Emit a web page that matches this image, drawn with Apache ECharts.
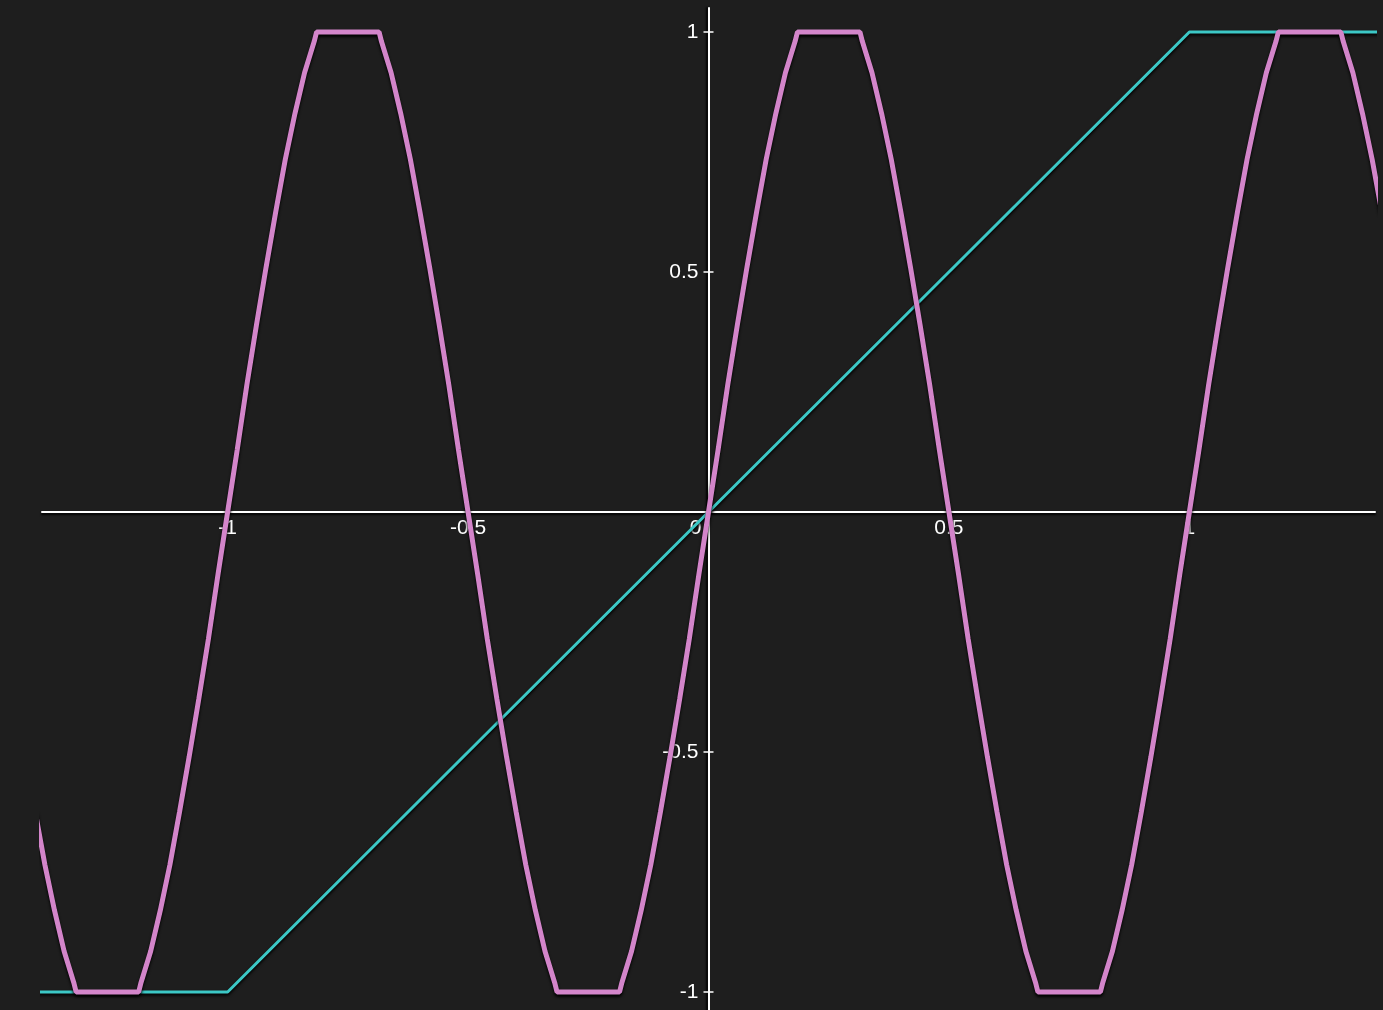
<!DOCTYPE html>
<html><head><meta charset="utf-8">
<script src="https://cdn.jsdelivr.net/npm/echarts@6/dist/echarts.min.js"></script>
<style>html,body{margin:0;padding:0;background:#1e1e1e;} #c{width:1383px;height:1010px;}</style>
</head><body><div id="c"></div>
<script>
const xTicks = [-1, -0.5, 0, 0.5, 1];
const yTicks = [-1, -0.5, 0.5, 1];
const tealX = [-1.4, -1, 1, 1.4];
const tealY = [-1, -1, 1, 1];
const pinkX = [
  -1.40, -1.38, -1.36, -1.34, -1.32, -1.315, -1.185, -1.18, -1.16, -1.14, -1.12, -1.10, -1.08, -1.06, -1.04, -1.02, -1.00,
  -0.98, -0.96, -0.94, -0.92, -0.90, -0.88, -0.86, -0.84, -0.82, -0.815, -0.685, -0.68, -0.66, -0.64, -0.62, -0.60, -0.58, -0.56, -0.54, -0.52, -0.50,
  -0.48, -0.46, -0.44, -0.42, -0.40, -0.38, -0.36, -0.34, -0.32, -0.315, -0.185, -0.18, -0.16, -0.14, -0.12, -0.10, -0.08, -0.06, -0.04, -0.02, 0,
  0.02, 0.04, 0.06, 0.08, 0.10, 0.12, 0.14, 0.16, 0.18, 0.185, 0.315, 0.32, 0.34, 0.36, 0.38, 0.40, 0.42, 0.44, 0.46, 0.48, 0.50,
  0.52, 0.54, 0.56, 0.58, 0.60, 0.62, 0.64, 0.66, 0.68, 0.685, 0.815, 0.82, 0.84, 0.86, 0.88, 0.90, 0.92, 0.94, 0.96, 0.98, 1.00,
  1.02, 1.04, 1.06, 1.08, 1.10, 1.12, 1.14, 1.16, 1.18, 1.185, 1.315, 1.32, 1.34, 1.36, 1.38, 1.40
];
const pinkY = [
  -0.625, -0.735, -0.83, -0.915, -0.98, -1, -1, -0.98, -0.915, -0.83, -0.735, -0.625, -0.51, -0.39, -0.265, -0.13, 0,
  0.13, 0.265, 0.39, 0.51, 0.625, 0.735, 0.83, 0.915, 0.98, 1, 1, 0.98, 0.915, 0.83, 0.735, 0.625, 0.51, 0.39, 0.265, 0.13, 0,
  -0.13, -0.265, -0.39, -0.51, -0.625, -0.735, -0.83, -0.915, -0.98, -1, -1, -0.98, -0.915, -0.83, -0.735, -0.625, -0.51, -0.39, -0.265, -0.13, 0,
  0.13, 0.265, 0.39, 0.51, 0.625, 0.735, 0.83, 0.915, 0.98, 1, 1, 0.98, 0.915, 0.83, 0.735, 0.625, 0.51, 0.39, 0.265, 0.13, 0,
  -0.13, -0.265, -0.39, -0.51, -0.625, -0.735, -0.83, -0.915, -0.98, -1, -1, -0.98, -0.915, -0.83, -0.735, -0.625, -0.51, -0.39, -0.265, -0.13, 0,
  0.13, 0.265, 0.39, 0.51, 0.625, 0.735, 0.83, 0.915, 0.98, 1, 1, 0.98, 0.915, 0.83, 0.735, 0.625
];

const FONT = "'Liberation Sans', Arial, sans-serif";
const GRID = {left: 42, top: 8, width: 1333, height: 1003.2};
const X_MIN = -1.386, X_MAX = 1.386, Y_MIN = -1.04, Y_MAX = 1.05;
// offsets that move the axes from the grid edges onto the origin
const xOffset = -(GRID.height * (0 - Y_MIN) / (Y_MAX - Y_MIN));
const yLeftOffset = -(GRID.width * (0 - X_MIN) / (X_MAX - X_MIN));
const yRightOffset = -(GRID.width * (X_MAX - 0) / (X_MAX - X_MIN));

const chart = echarts.init(document.getElementById('c'), null, {renderer: 'canvas'});
const yCommon = {type: 'value', min: Y_MIN, max: Y_MAX, splitLine: {show: false}};
chart.setOption({
  backgroundColor: '#1e1e1e',
  animation: false,
  grid: Object.assign({containLabel: false, outerBoundsMode: 'none'}, GRID),
  xAxis: {
    type: 'value', min: X_MIN, max: X_MAX, position: 'bottom', offset: xOffset,
    splitLine: {show: false},
    axisLine: {onZero: false, lineStyle: {color: '#ffffff', width: 2, shadowColor: '#000', shadowOffsetY: 2, shadowBlur: 2}},
    axisTick: {show: true, length: 5, customValues: xTicks, lineStyle: {color: '#ffffff', width: 1.5}},
    axisLabel: {
      show: true, customValues: xTicks, color: '#ffffff', fontSize: 21, fontFamily: FONT, margin: 6,
      hideOverlap: false,
      formatter: function (v) { return v === 0 ? '{z|0}' : String(v); },
      rich: {z: {color: '#ffffff', fontSize: 21, fontFamily: FONT, padding: [0, 26, 0, 0]}}
    }
  },
  yAxis: [
    Object.assign({}, yCommon, {
      position: 'left', offset: yLeftOffset,
      axisLine: {onZero: false, lineStyle: {color: '#ffffff', width: 2, shadowColor: '#000', shadowOffsetX: -2, shadowBlur: 2}},
      axisTick: {show: true, length: 5, customValues: yTicks, lineStyle: {color: '#ffffff', width: 1.5}},
      axisLabel: {show: true, customValues: yTicks, color: '#ffffff', fontSize: 21, fontFamily: FONT, margin: 10, hideOverlap: false}
    }),
    Object.assign({}, yCommon, {
      position: 'right', offset: yRightOffset,
      axisLine: {show: false, onZero: false},
      axisTick: {show: true, length: 5, customValues: yTicks, lineStyle: {color: '#ffffff', width: 1.5}},
      axisLabel: {show: false}
    })
  ],
  series: [
    {
      type: 'line', yAxisIndex: 0, showSymbol: false, symbol: 'none', silent: true,
      data: tealX.map((x, i) => [x, tealY[i]]),
      lineStyle: {color: '#3cc8c6', width: 3, shadowColor: '#000', shadowOffsetY: 2, shadowBlur: 3},
      z: 3
    },
    {
      type: 'line', yAxisIndex: 0, showSymbol: false, symbol: 'none', silent: true,
      data: pinkX.map((x, i) => [x, pinkY[i]]),
      lineStyle: {color: '#d385ca', width: 5, shadowColor: '#000', shadowOffsetY: 2.5, shadowBlur: 3},
      z: 4
    }
  ]
});
</script>
</body></html>
